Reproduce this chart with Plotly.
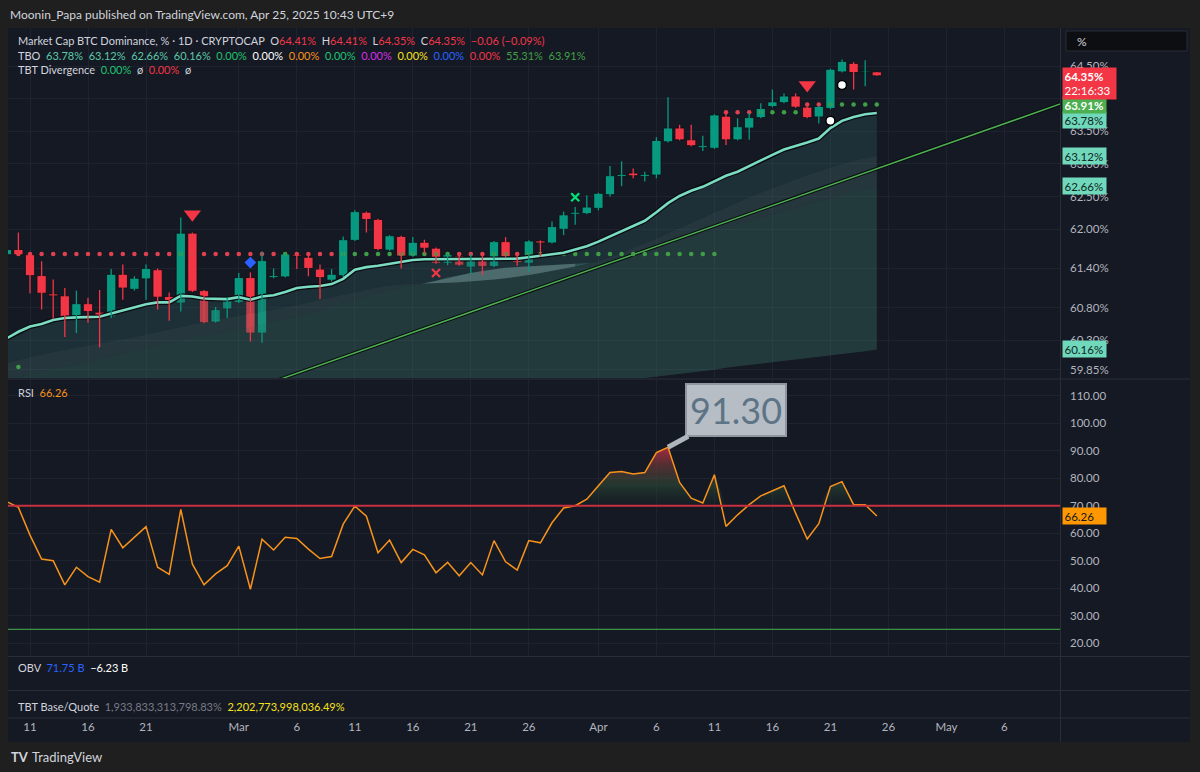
import numpy as np
import pandas as pd
import plotly.graph_objects as go

# ------------------------------------------------------------------ data
dates = pd.date_range("2025-02-09", "2025-04-25", freq="D")

open_p = [61.61, 61.69, 61.61, 61.29, 61.01, 60.98, 60.65, 60.86, 60.73, 60.66, 61.31, 61.08, 61.24, 61.38, 60.97, 60.87, 61.94, 61.06, 60.58, 60.78,
          60.88, 61.26, 60.41, 61.26, 61.27, 61.61, 61.57, 61.39, 61.22, 61.29, 61.83, 62.26, 62.15, 61.68, 61.89, 61.59, 61.80, 61.71, 61.48, 61.59, 61.42, 61.56, 61.43, 61.81, 61.58, 61.48, 61.82, 61.79, 62.00, 62.23, 62.24,
          62.32, 62.53, 62.81, 62.86, 62.81, 62.83, 63.34, 63.55, 63.37, 63.25, 63.24, 63.73, 63.37, 63.55, 63.71, 63.88, 63.94, 64.04, 63.87, 63.72, 63.85, 64.41, 64.54, 64.40, 64.41]
high_p = [61.70, 61.95, 61.63, 61.51, 61.23, 61.10, 61.06, 60.95, 61.07, 61.39, 61.46, 61.28, 61.46, 61.40, 61.03, 62.18, 61.95, 61.07, 60.81, 60.95,
          61.33, 61.34, 61.66, 61.40, 61.63, 61.62, 61.63, 61.46, 61.39, 61.89, 62.29, 62.27, 62.16, 61.91, 61.90, 61.88, 61.84, 61.72, 61.63, 61.63, 61.62, 61.63, 61.82, 61.88, 61.63, 61.83, 61.83, 62.12, 62.27, 62.34, 62.52,
          62.56, 62.97, 63.04, 62.93, 62.88, 63.41, 64.02, 63.60, 63.60, 63.43, 63.76, 63.80, 63.70, 63.78, 63.93, 64.14, 64.08, 64.08, 63.88, 63.89, 64.46, 64.60, 64.56, 64.59, 64.41]
low_p = [61.60, 61.60, 61.02, 60.77, 60.63, 60.35, 60.41, 60.57, 60.19, 60.64, 60.92, 61.06, 60.92, 60.77, 60.60, 60.74, 61.04, 60.56, 60.57, 60.64,
         60.87, 60.28, 60.26, 61.25, 61.26, 61.39, 61.28, 60.93, 61.20, 61.27, 61.82, 61.95, 61.68, 61.67, 61.40, 61.58, 61.62, 61.47, 61.45, 61.44, 61.31, 61.30, 61.42, 61.57, 61.44, 61.35, 61.58, 61.78, 61.91, 62.07, 62.23,
         62.29, 62.50, 62.66, 62.78, 62.73, 62.78, 63.33, 63.36, 63.27, 63.20, 63.23, 63.29, 63.36, 63.37, 63.70, 63.87, 63.93, 63.86, 63.70, 63.62, 63.84, 64.40, 64.14, 64.19, 64.35]
close_p = [61.69, 61.61, 61.29, 61.02, 60.98, 60.65, 60.86, 60.74, 60.66, 61.31, 61.10, 61.25, 61.40, 60.96, 60.88, 61.94, 61.05, 60.57, 60.77, 60.92,
           61.26, 60.41, 61.52, 61.29, 61.62, 61.59, 61.40, 61.26, 61.31, 61.84, 62.27, 62.15, 61.69, 61.90, 61.59, 61.80, 61.71, 61.48, 61.61, 61.45, 61.58, 61.43, 61.81, 61.58, 61.49, 61.82, 61.79, 62.04, 62.22, 62.26, 62.34,
           62.55, 62.82, 62.84, 62.82, 62.84, 63.36, 63.55, 63.37, 63.28, 63.28, 63.75, 63.37, 63.57, 63.71, 63.85, 63.95, 64.04, 63.87, 63.71, 63.88, 64.45, 64.57, 64.40, 64.41, 64.35]

tbo_fast = [60.33, 60.43, 60.51, 60.55, 60.61, 60.64, 60.65, 60.66, 60.66, 60.71, 60.76, 60.80, 60.85, 60.88, 60.88, 60.98, 60.97, 60.94, 60.93, 60.93,
            60.96, 60.92, 60.97, 60.99, 61.04, 61.10, 61.12, 61.13, 61.16, 61.24, 61.38, 61.42, 61.44, 61.47, 61.50, 61.53, 61.54, 61.54, 61.54, 61.54, 61.54, 61.54, 61.55, 61.55, 61.55, 61.57, 61.59, 61.62, 61.64, 61.69, 61.74,
            61.81, 61.89, 61.96, 62.04, 62.13, 62.26, 62.40, 62.51, 62.59, 62.65, 62.74, 62.82, 62.88, 62.97, 63.05, 63.14, 63.22, 63.27, 63.33, 63.39, 63.55, 63.66, 63.72, 63.76, 63.78]
tbo_mid = [59.95, 60.00, 60.04, 60.08, 60.12, 60.16, 60.19, 60.22, 60.25, 60.28, 60.31, 60.35, 60.39, 60.43, 60.47, 60.51, 60.55, 60.58, 60.61, 60.64,
           60.67, 60.70, 60.73, 60.76, 60.80, 60.84, 60.88, 60.92, 60.96, 61.00, 61.04, 61.08, 61.11, 61.14, 61.16, 61.17, 61.17, 61.17, 61.18, 61.19, 61.20, 61.21, 61.23, 61.25, 61.27, 61.30, 61.33, 61.36, 61.40, 61.43, 61.47,
           61.51, 61.57, 61.64, 61.71, 61.78, 61.86, 61.94, 62.02, 62.10, 62.18, 62.26, 62.34, 62.42, 62.49, 62.56, 62.63, 62.70, 62.77, 62.83, 62.89, 62.95, 63.00, 63.05, 63.09, 63.12]
tbo_slow = [59.70, 59.74, 59.78, 59.82, 59.86, 59.90, 59.94, 59.98, 60.02, 60.06, 60.10, 60.14, 60.18, 60.22, 60.26, 60.30, 60.34, 60.37, 60.40, 60.43,
            60.46, 60.50, 60.54, 60.58, 60.62, 60.66, 60.71, 60.76, 60.81, 60.86, 60.92, 60.98, 61.03, 61.07, 61.11, 61.14, 61.17, 61.21, 61.26, 61.30, 61.33, 61.36, 61.39, 61.41, 61.42, 61.43, 61.44, 61.45, 61.46, 61.47, 61.48,
            61.49, 61.54, 61.59, 61.64, 61.69, 61.74, 61.79, 61.84, 61.89, 61.94, 61.99, 62.04, 62.09, 62.14, 62.19, 62.24, 62.29, 62.34, 62.39, 62.44, 62.49, 62.54, 62.58, 62.62, 62.66]
tbo_base = [58.60, 58.63, 58.66, 58.69, 58.72, 58.75, 58.78, 58.81, 58.84, 58.87, 58.90, 58.93, 58.96, 58.99, 59.02, 59.05, 59.07, 59.09, 59.11, 59.13,
            59.15, 59.17, 59.19, 59.21, 59.23, 59.25, 59.27, 59.29, 59.31, 59.33, 59.35, 59.37, 59.39, 59.41, 59.43, 59.45, 59.47, 59.49, 59.51, 59.53, 59.54, 59.55, 59.56, 59.57, 59.58, 59.59, 59.60, 59.61, 59.62, 59.63, 59.64,
            59.65, 59.66, 59.68, 59.70, 59.72, 59.75, 59.77, 59.79, 59.81, 59.83, 59.85, 59.88, 59.90, 59.92, 59.94, 59.96, 59.98, 60.00, 60.02, 60.04, 60.06, 60.08, 60.11, 60.13, 60.16]

rsi = [71.5, 69.4, 59.3, 50.6, 50.0, 41.2, 47.6, 44.2, 42.2, 61.4, 54.7, 58.7, 62.4, 47.6, 45.0, 68.7, 48.7, 41.2, 45.2, 48.2,
       55.3, 39.6, 57.8, 53.9, 58.5, 58.1, 54.2, 50.8, 51.5, 63.3, 69.9, 66.2, 52.9, 57.5, 49.3, 54.1, 52.1, 45.6, 49.4, 44.5, 49.3, 44.8, 57.3, 49.6, 46.6, 57.3, 56.5, 63.8, 69.2, 70.0, 72.4,
       77.3, 82.1, 82.5, 81.6, 82.1, 89.4, 91.3, 78.5, 72.8, 71.0, 81.3, 62.5, 66.7, 70.4, 73.6, 75.6, 77.3, 67.3, 57.9, 63.5, 77.0, 78.8, 70.4, 70.4, 66.26]
rsi_upper = 70
rsi_lower = 25

# stop level dots (value per day, state u = above / d = below)
level_vals = [None] + [61.62] * 61 + [63.79] * 7 + [63.91] * 7
level_state = ("-" + "dddddddddddddd" + "u" + "dddddddd" + "u" + "dddd" + "uuuuuuuuuu" + "ddd" + "uu" + "d"
               + "uuuuuuuuuuuuuuuuu" + "ddd" + "uuuu" + "dd" + "uuuuu")

# signal markers
sell_dates, sell_vals = ["2025-02-25", "2025-04-19"], [62.23, 64.21]
diamond_dates, diamond_vals = ["2025-03-02"], [61.49]
xdn_dates, xdn_vals = ["2025-03-18"], [61.33]
xup_dates, xup_vals = ["2025-03-30"], [62.49]
drop_dates, drop_vals = ["2025-04-21", "2025-04-22"], [63.66, 64.21]
small_dot_dates, small_dot_vals = ["2025-02-10"], [59.89]

# trend line
trend_dates, trend_vals = ["2025-03-01", "2025-05-11"], [59.48, 63.93]

# axis ticks
x_tick_dates = ["2025-02-11", "2025-02-16", "2025-02-21", "2025-03-01", "2025-03-06", "2025-03-11", "2025-03-16",
                "2025-03-21", "2025-03-26", "2025-04-01", "2025-04-06", "2025-04-11", "2025-04-16", "2025-04-21",
                "2025-04-26", "2025-05-01", "2025-05-06"]
x_tick_text = ["11", "16", "21", "Mar", "6", "11", "16", "21", "26", "Apr", "6", "11", "16", "21", "26", "May", "6"]
price_ticks = [59.85, 60.30, 60.80, 61.40, 62.00, 62.50, 63.00, 63.50, 64.00, 64.50]
price_hidden = [64.00]          # covered by the price labels in the reference
rsi_ticks = [20, 30, 40, 50, 60, 70, 80, 90, 100, 110]

tbo_extra = [("0.00%", "#1fc46f"), ("0.00%", "#ffffff"), ("0.00%", "#f7931a"), ("0.00%", "#1fc46f"),
             ("0.00%", "#d42ee6"), ("0.00%", "#f5e11b"), ("0.00%", "#2962ff"), ("0.00%", "#f23645"),
             ("55.31%", "#43a047"), ("63.91%", "#43a047")]
obv_vals = ["71.75 B", "−6.23 B"]
tbt_vals = ["1,933,833,313,798.83%", "2,202,773,998,036.49%"]
countdown = "22:16:33"

# ------------------------------------------------------------------ geometry / style
W, H = 1200, 772
ML, MR, MT, MB = 8, 140, 28, 54
PW, PH = W - ML - MR, H - MT - MB


def px(x):
    return (x - ML) / PW


def py(y):
    return (H - MB - y) / PH


X0, X1 = "2025-02-09 02:29", "2025-05-10 19:02"
BG, OUT, GRID, TXT = "#151924", "#1f1f1f", "#1f2330", "#b2b5be"
UP, DN, MINT, OUTL = "#089981", "#f23645", "#7adcc2", "#0a0c11"
FONT = "Lato, 'Open Sans', sans-serif"
LEG = 11

n = len(dates)
o, h, l, c = map(np.array, (open_p, high_p, low_p, close_p))
up = c >= o

fig = go.Figure()

# ---- TBO bands
fig.add_trace(go.Scatter(x=dates, y=tbo_base, mode="lines", line=dict(width=0), hoverinfo="skip"))
fig.add_trace(go.Scatter(x=dates, y=tbo_slow, mode="lines", line=dict(width=0), fill="tonexty",
                         fillcolor="rgba(58,108,100,0.40)", hoverinfo="skip"))
fig.add_trace(go.Scatter(x=dates, y=tbo_mid, mode="lines", line=dict(width=0), fill="tonexty",
                         fillcolor="rgba(70,120,115,0.32)", hoverinfo="skip"))
fig.add_trace(go.Scatter(x=dates, y=tbo_fast, mode="lines", line=dict(width=0), fill="tonexty",
                         fillcolor="rgba(48,90,90,0.36)", hoverinfo="skip"))
ws = slice(36, 50)
fig.add_trace(go.Scatter(x=dates[ws], y=tbo_slow[ws], mode="lines", line=dict(width=0), hoverinfo="skip"))
fig.add_trace(go.Scatter(x=dates[ws], y=tbo_mid[ws], mode="lines", line=dict(width=0), fill="tonexty",
                         fillcolor="rgba(150,165,172,0.30)", hoverinfo="skip"))

# ---- trend line
fig.add_trace(go.Scatter(x=trend_dates, y=trend_vals, mode="lines", line=dict(color=OUTL, width=3.5), hoverinfo="skip"))
fig.add_trace(go.Scatter(x=trend_dates, y=trend_vals, mode="lines", line=dict(color="#4caf50", width=1.5), hoverinfo="skip"))

# ---- stop level dots
lv = np.array([np.nan if v is None else v for v in level_vals])
st = np.array(list(level_state))
for key, col in (("d", "#e0414f"), ("u", "#3f9e46")):
    m = st == key
    fig.add_trace(go.Scatter(x=dates[m], y=lv[m], mode="markers",
                             marker=dict(color=col, size=4.5), hoverinfo="skip"))
fig.add_trace(go.Scatter(x=small_dot_dates, y=small_dot_vals, mode="markers",
                         marker=dict(color="#3f9e46", size=4.5), hoverinfo="skip"))

# ---- fast TBO line (with dark outline)
fig.add_trace(go.Scatter(x=dates, y=tbo_fast, mode="lines", line=dict(color=OUTL, width=5), hoverinfo="skip"))
fig.add_trace(go.Scatter(x=dates, y=tbo_fast, mode="lines", line=dict(color=MINT, width=2.6), hoverinfo="skip"))

# ---- candles: wicks
for mask, col in ((up, UP), (~up, DN)):
    xs, ys = [], []
    for d, lo_, hi_ in zip(dates[mask], l[mask], h[mask]):
        xs += [d, d, None]
        ys += [lo_, hi_, None]
    fig.add_trace(go.Scatter(x=xs, y=ys, mode="lines", line=dict(color=col, width=1.3), hoverinfo="skip"))
# bodies
body = np.maximum(np.abs(c - o), 0.02)
base = np.minimum(o, c)
for mask, col in ((up, UP), (~up, DN)):
    fig.add_trace(go.Bar(x=dates[mask], y=body[mask], base=base[mask], width=0.8 * 86400000,
                         marker=dict(color=col, line=dict(color=OUTL, width=0.8)), hoverinfo="skip"))

# ---- signal markers
fig.add_trace(go.Scatter(x=sell_dates, y=sell_vals, mode="markers",
                         marker=dict(symbol="triangle-down", size=15, color=DN, line=dict(width=0))))
fig.add_trace(go.Scatter(x=diamond_dates, y=diamond_vals, mode="markers",
                         marker=dict(symbol="diamond", size=9, color="#2962ff")))
fig.add_trace(go.Scatter(x=xdn_dates, y=xdn_vals, mode="markers",
                         marker=dict(symbol="x-thin", size=8, line=dict(color=DN, width=2.2))))
fig.add_trace(go.Scatter(x=xup_dates, y=xup_vals, mode="markers",
                         marker=dict(symbol="x-thin", size=8, line=dict(color="#00e676", width=2.2))))
fig.add_trace(go.Scatter(x=drop_dates, y=drop_vals, mode="markers",
                         marker=dict(symbol="circle", size=9, color="#ffffff", line=dict(color="#000000", width=1.5))))

# ---- RSI pane
rsi_arr = np.array(rsi)
fig.add_trace(go.Scatter(x=dates, y=np.full(n, rsi_upper), mode="lines", line=dict(width=0),
                         xaxis="x2", yaxis="y2", hoverinfo="skip"))
fig.add_trace(go.Scatter(x=dates, y=np.maximum(rsi_arr, rsi_upper), mode="lines", line=dict(width=0),
                         fill="tonexty", xaxis="x2", yaxis="y2", hoverinfo="skip",
                         fillgradient=dict(type="vertical", start=rsi_upper, stop=max(rsi),
                                           colorscale=[[0, "rgba(25,45,40,0.2)"], [0.35, "rgba(45,75,55,0.6)"],
                                                       [0.7, "rgba(110,55,55,0.7)"], [1, "rgba(190,45,70,0.85)"]])))
fig.add_trace(go.Scatter(x=dates, y=rsi, mode="lines", line=dict(color="#f7931a", width=1.5),
                         xaxis="x2", yaxis="y2", hoverinfo="skip"))

# dummy traces to create the OBV / TBT panes
fig.add_trace(go.Scatter(x=[dates[0]], y=[0], mode="markers", marker=dict(opacity=0), xaxis="x3", yaxis="y3", hoverinfo="skip"))
fig.add_trace(go.Scatter(x=[dates[0]], y=[0], mode="markers", marker=dict(opacity=0), xaxis="x4", yaxis="y4", hoverinfo="skip"))

# ------------------------------------------------------------------ layout
xcommon = dict(type="date", range=[X0, X1], tickvals=x_tick_dates, ticktext=x_tick_text, zeroline=False,
               showline=False, ticks="", fixedrange=True)
fig.update_layout(
    width=W, height=H, margin=dict(l=ML, r=MR, t=MT, b=MB),
    paper_bgcolor=OUT, plot_bgcolor=BG, showlegend=False, barmode="overlay",
    font=dict(family=FONT, color=TXT, size=12),
    xaxis=dict(xcommon, anchor="y", domain=[0, 1], showticklabels=False, showgrid=True, gridcolor=GRID),
    yaxis=dict(anchor="x", domain=[py(378), 1], side="right", range=[59.722, 65.082], tickvals=price_ticks,
               ticktext=["" if v in price_hidden else f"{v:.2f}%" for v in price_ticks],
               showgrid=True, gridcolor=GRID, zeroline=False,
               ticks="", ticklabelstandoff=9, tickfont=dict(size=11.5, color=TXT)),
    xaxis2=dict(xcommon, anchor="y2", domain=[0, 1], showticklabels=False, showgrid=True, gridcolor=GRID),
    yaxis2=dict(anchor="x2", domain=[py(656), py(380)], side="right", range=[15.27, 115.82], tickvals=rsi_ticks,
                ticktext=[f"{v:.2f}" for v in rsi_ticks], showgrid=True, gridcolor=GRID, zeroline=False,
                ticks="", ticklabelstandoff=9, tickfont=dict(size=11.5, color=TXT)),
    xaxis3=dict(xcommon, anchor="y3", domain=[0, 1], showticklabels=False, showgrid=False),
    yaxis3=dict(anchor="x3", domain=[py(690), py(657)], visible=False, range=[-1, 1]),
    xaxis4=dict(xcommon, anchor="y4", domain=[0, 1], showticklabels=True, showgrid=False,
                ticklabelstandoff=0, tickfont=dict(size=11.5, color=TXT)),
    yaxis4=dict(anchor="x4", domain=[0, py(691)], visible=False, range=[-1, 1]),
)

shapes = []
shapes.append(dict(type="rect", xref="paper", yref="paper", x0=px(8), x1=px(1190), y0=py(742), y1=py(28),
                   fillcolor=BG, line=dict(width=0), layer="below"))
for yy in (379, 656.5, 690.5, 718):
    shapes.append(dict(type="line", xref="paper", yref="paper", x0=px(8), x1=px(1190), y0=py(yy), y1=py(yy),
                       line=dict(color="#2a2e39", width=1.2)))
shapes.append(dict(type="line", xref="paper", yref="paper", x0=px(1060.5), x1=px(1060.5), y0=py(742), y1=py(28),
                   line=dict(color="#2a2e39", width=1)))
shapes.append(dict(type="rect", xref="paper", yref="paper", x0=px(1066), x1=px(1187), y0=py(51), y1=py(31),
                   fillcolor="#0d0e12", line=dict(color="#2a2d36", width=1)))
shapes.append(dict(type="line", xref="x2 domain", yref="y2", x0=0, x1=1, y0=rsi_upper, y1=rsi_upper,
                   line=dict(color="#c8303f", width=2)))
shapes.append(dict(type="line", xref="x2 domain", yref="y2", x0=0, x1=1, y0=rsi_lower, y1=rsi_lower,
                   line=dict(color="#4caf50", width=1)))
fig.update_layout(shapes=shapes)

ann = []


def text(xp, yp, t, size=LEG, color=TXT, anchor="left", **kw):
    ann.append(dict(x=px(xp), y=py(yp), xref="paper", yref="paper", text=t, showarrow=False,
                    xanchor=anchor, yanchor="middle", font=dict(size=size, color=color, family=FONT), **kw))


def sp(t, col):
    return f"<span style='color:{col}'>{t}</span>"


text(8, 15, "Moonin_Papa published on TradingView.com, Apr 25, 2025 10:43 UTC+9", size=12, color="#d1d4dc")
chg = close_p[-1] - close_p[-2]
pct = chg / close_p[-2] * 100
line1 = (sp("Market Cap BTC Dominance, % · 1D · CRYPTOCAP", "#d1d4dc") + "  "
         + "O" + sp(f"{open_p[-1]:.2f}%", DN) + "  H" + sp(f"{high_p[-1]:.2f}%", DN)
         + "  L" + sp(f"{low_p[-1]:.2f}%", DN) + "  C" + sp(f"{close_p[-1]:.2f}%", DN)
         + "  " + sp(f"{chg:+.2f} ({pct:+.2f}%)".replace("-", "−"), DN))
text(16, 40, line1, color="#d1d4dc")
mint_txt = "#5ccaa9"
line2 = ("TBO  " + "  ".join(sp(f"{v[-1]:.2f}%", mint_txt) for v in (tbo_fast, tbo_mid, tbo_slow, tbo_base))
         + "  " + "  ".join(sp(t, col) for t, col in tbo_extra))
text(16, 55, line2, color="#d1d4dc")
text(16, 70, "TBT Divergence  " + sp("0.00%", "#1fc46f") + "  ø  " + sp("0.00%", DN) + "  ø", color="#d1d4dc")
text(16, 392, "RSI  " + sp(f"{rsi[-1]:.2f}", "#f7931a"), color="#d1d4dc")
text(16, 667, "OBV  " + sp(obv_vals[0], "#2962ff") + "  " + sp(obv_vals[1], "#ffffff"), color="#d1d4dc")
text(16, 706, "TBT Base/Quote  " + sp(tbt_vals[0], "#787b86") + "  " + sp(tbt_vals[1], "#f5e11b"), color="#d1d4dc")
text(1075, 41, "%", size=12, color="#d1d4dc")
text(9, 757, "<b>TV</b>", size=13, color="#d1d4dc")
text(30, 757, "TradingView", size=13, color="#d1d4dc")


def axis_label(val, yref, t, bg, fg, width=40, **kw):
    ann.append(dict(x=px(1062), y=val, xref="paper", yref=yref, text=t, showarrow=False, xanchor="left",
                    yanchor=kw.pop("yanchor", "middle"), bgcolor=bg, borderpad=1.5, width=width, align="left",
                    font=dict(size=11.5, color=fg, family=FONT), **kw))


axis_label(tbo_base[-1], "y", f"{tbo_base[-1]:.2f}%", "#70d9bb", "#10251f")
axis_label(tbo_slow[-1], "y", f"{tbo_slow[-1]:.2f}%", "#70d9bb", "#10251f")
axis_label(tbo_mid[-1], "y", f"{tbo_mid[-1]:.2f}%", "#70d9bb", "#10251f")
axis_label(tbo_fast[-1], "y", f"{tbo_fast[-1]:.2f}%", "#70d9bb", "#10251f", yshift=-7)
axis_label(level_vals[-1], "y", f"<b>{level_vals[-1]:.2f}%</b>", "#4caf50", "#ffffff")
axis_label(close_p[-1], "y", f"<b>{close_p[-1]:.2f}%</b><br>{countdown}", DN, "#ffffff", width=50,
           yanchor="top", yshift=9)
axis_label(rsi[-1], "y2", f"{rsi[-1]:.2f}", "#ff9800", "#131722")

# RSI peak callout
pk = int(np.argmax(rsi_arr))
ann.append(dict(x=dates[pk], y=rsi[pk], xref="x2", yref="y2", text=f"{rsi[pk]:.2f}", showarrow=True,
                arrowhead=0, arrowwidth=5, arrowcolor="#aeb5bd", ax=68, ay=-37, bgcolor="#b7bdc5",
                bordercolor="#8f969e", borderwidth=2, borderpad=3,
                font=dict(size=36, color="#5d7486", family=FONT)))

fig.update_layout(annotations=ann)
fig.write_html("out.html", include_plotlyjs=True, config={"displayModeBar": False})
